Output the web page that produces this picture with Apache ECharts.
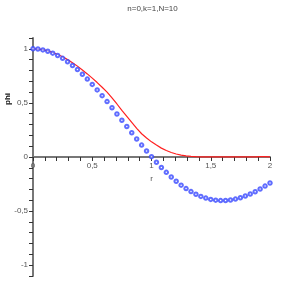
<!DOCTYPE html>
<html><head><meta charset="utf-8">
<script src="https://cdn.jsdelivr.net/npm/echarts@6/dist/echarts.min.js"></script>
<style>html,body{margin:0;padding:0;background:#fff}#c{width:305px;height:305px}</style>
</head><body><div id="c"></div>
<script>
// sample positions r = k/24, k = 0..48
const rValues = [];
for (let k = 0; k <= 48; k++) rValues.push(k / 24);

const phiPoints = [1.000,0.998,0.990,0.978,0.960,0.938,0.912,0.881,0.846,0.808,0.765,0.720,0.671,0.620,0.567,0.512,0.455,0.398,0.340,0.282,0.224,0.167,0.110,0.056,0.003,-0.048,-0.097,-0.142,-0.185,-0.224,-0.260,-0.292,-0.320,-0.344,-0.364,-0.380,-0.392,-0.399,-0.403,-0.402,-0.397,-0.389,-0.377,-0.361,-0.342,-0.321,-0.296,-0.269,-0.240];

const phiCurve = [1.000,0.998,0.992,0.981,0.966,0.948,0.926,0.900,0.872,0.840,0.805,0.768,0.729,0.688,0.645,0.600,0.547,0.490,0.430,0.375,0.320,0.265,0.215,0.175,0.140,0.110,0.082,0.060,0.042,0.028,0.017,0.010,0.005,0.003,0.002,0.001,0.001,0.001,0.001,0.001,0.001,0.001,0.001,0.001,0.001,0.002,0.003,0.003,0.002];

const xLabels = [0, 0.5, 1, 1.5, 2];
const yLabels = [-1, -0.5, 0, 0.5, 1];
const titleText = 'n=0,k=1,N=10';

const fmt = (v, list) => {
  const hit = list.find(t => Math.abs(t - v) < 1e-6);
  return hit === undefined ? '' : String(hit).replace('.', ',');
};

const chart = echarts.init(document.getElementById('c'));
chart.setOption({
  animation: false,
  title: { text: titleText, left: 'center', top: 0,
    textStyle: { fontSize: 8, fontWeight: 'normal', color: '#444', fontFamily: 'Liberation Sans' } },
  grid: { left: 33, right: 35, top: 38, bottom: 29 },
  xAxis: {
    type: 'value', min: 0, max: 2, interval: 0.1, position: 'bottom', offset: -119,
    name: 'r', nameLocation: 'middle', nameGap: 18,
    nameTextStyle: { fontSize: 8, color: '#555', fontFamily: 'Liberation Sans' },
    axisLine: { onZero: false, lineStyle: { color: '#777', width: 2 } },
    axisTick: { length: 4, lineStyle: { color: '#333', width: 1 } },
    axisLabel: { fontSize: 8, color: '#555', margin: 5, fontFamily: 'Liberation Sans',
      formatter: v => fmt(v, xLabels) },
    splitLine: { show: false }
  },
  yAxis: {
    type: 'value', min: -1.1, max: 1.1, interval: 0.1,
    axisLine: { onZero: false, lineStyle: { color: '#777', width: 2 } },
    axisTick: { length: 4, lineStyle: { color: '#333', width: 1 } },
    axisLabel: { fontSize: 8, color: '#555', margin: 5, fontFamily: 'Liberation Sans',
      formatter: v => fmt(v, yLabels) },
    splitLine: { show: false }
  },
  graphic: [{
    type: 'text', left: 4, top: 93, rotation: Math.PI / 2,
    style: { text: 'phi', fontSize: 8, fontWeight: 'bold', fill: '#111', fontFamily: 'Liberation Sans' }
  }],
  series: [
    { type: 'line', data: rValues.map((r, i) => [r, phiCurve[i]]), showSymbol: false,
      lineStyle: { color: '#ff2020', width: 1.2 }, z: 2 },
    { type: 'scatter', data: rValues.map((r, i) => [r, phiPoints[i]]), symbol: 'emptyCircle',
      symbolSize: 3.5, itemStyle: { color: '#3848ff', borderWidth: 1 }, z: 3 }
  ]
});
</script></body></html>
